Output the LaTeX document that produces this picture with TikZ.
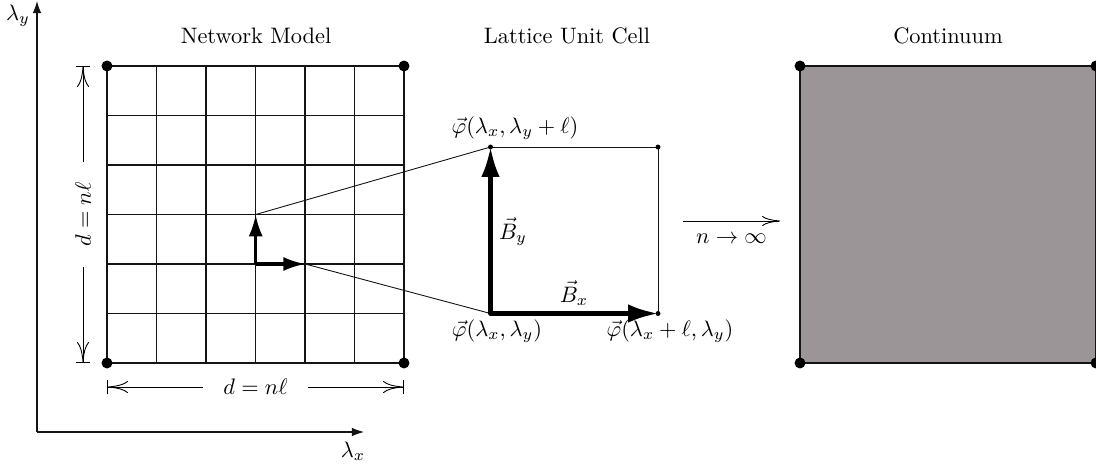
\documentclass[tikz,border=0pt]{standalone}
\usepackage{amsmath}
\usepackage{amssymb}
\usepackage{xcolor}
\usepackage{tikz}
\usetikzlibrary{arrows.meta,positioning,calc}
\definecolor{ctfill}{RGB}{155,149,152}
\definecolor{lnedge}{RGB}{20,20,20}
\tikzset{
  gridln/.style={draw=lnedge, line width=0.55pt},
  thin/.style={draw=lnedge, line width=0.4pt},
  axis/.style={-{Latex[length=5.4pt,width=3.8pt]}, draw=lnedge, line width=0.45pt},
  basis/.style={-{Latex[length=9.8pt,width=6.3pt]}, line width=1.35pt},
  bigbasis/.style={-{Latex[length=13.4pt,width=8.3pt]}, line width=1.8pt},
  dimln/.style={{Bar[width=6.3pt]To[length=9pt,width=5.4pt]}-{To[length=9pt,width=5.4pt]Bar[width=6.3pt]}, line width=0.4pt},
  dimlbl/.style={fill=white, inner xsep=9pt, inner ysep=2pt},
  lim/.style={-{To[length=8pt,width=4.5pt]}, line width=0.4pt},
  every picture/.append style={line join=round}
}

\begin{document}
\begin{tikzpicture}[x=0.447pt,y=-0.447pt]
  \useasboundingbox (0,0) rectangle (1096,465);
  % axes
  \coordinate (ax0) at (37,432);
  \coordinate (axY) at (37,1);
  \coordinate (axX) at (364,432);
  \draw[axis] (ax0) -- (axY);
  \draw[axis] (ax0) -- (axX);
  \node (lamy) at (18,16) {$\lambda_y$};
  \node (lamx) at (353,451) {$\lambda_x$};

  % titles
  \node (tnet) at (256,36) {Network Model};
  \node (tcell) at (567,36) {Lattice Unit Cell};
  \node (tcont) at (948,36) {Continuum};

  % network model
  \coordinate (gSW) at (107,363);
  \coordinate (gNW) at (107,66);
  \coordinate (gNE) at (404,66);
  \coordinate (gSE) at (404,363);
  \foreach \i in {0,...,6} {
    \draw[gridln] (107+\i*49.5,66) -- (107+\i*49.5,363);
    \draw[gridln] (107,66+\i*49.5) -- (404,66+\i*49.5);
  }
  \foreach \c in {gSW,gNW,gNE,gSE}
    \fill (\c) circle (2.45pt);
  \coordinate (bo) at (255.7,264);
  \coordinate (bu) at (255.7,214.5);
  \coordinate (br) at (305.2,264);
  \draw[basis] (bo) -- (bu);
  \draw[basis] (bo) -- (br);

  % dimensions
  \coordinate (dvt) at (83,66);
  \coordinate (dvb) at (83,363);
  \coordinate (dhl) at (107,387);
  \coordinate (dhr) at (404,387);
  \draw[dimln] (dvb) -- (dvt) node[midway, dimlbl, rotate=90] (dvl) {$d=n\ell$};
  \draw[dimln] (dhl) -- (dhr) node[midway, dimlbl] (dhlb) {$d=n\ell$};

  % unit cell
  \coordinate (uSW) at (490.5,313.5);
  \coordinate (uNW) at (490.5,147);
  \coordinate (uNE) at (658,147);
  \coordinate (uSE) at (658,313.5);
  \draw[thin] (bu) -- (uNW);
  \draw[thin] (br) -- (uSW);
  \draw[thin] (uNW) -- (uNE) -- (uSE);
  \draw[bigbasis] (uSW) -- (uNW);
  \draw[bigbasis] (uSW) -- (uSE);
  \foreach \c in {uSW,uNW,uNE,uSE}
    \fill (\c) circle (1.1pt);
  \node (phinw) at (515,128) {$\vec{\varphi}(\lambda_x,\lambda_y+\ell)$};
  \node (phisw) at (497,331) {$\vec{\varphi}(\lambda_x,\lambda_y)$};
  \node (phise) at (670,331) {$\vec{\varphi}(\lambda_x+\ell,\lambda_y)$};
  \node (by) at (513,232) {$\vec{B}_y$};
  \node (bx) at (574,293) {$\vec{B}_x$};

  % limit
  \coordinate (la) at (683,221);
  \coordinate (lb) at (780,221);
  \draw[lim] (la) -- (lb) node[midway, below=2pt] (ninf) {$n\to\infty$};

  % continuum
  \coordinate (cSW) at (800,363);
  \coordinate (cNW) at (800,66);
  \coordinate (cNE) at (1096,66);
  \coordinate (cSE) at (1096,363);
  \draw[gridln, fill=ctfill] (cSW) rectangle (cNE);
  \foreach \c in {cSW,cNW,cNE,cSE}
    \fill (\c) circle (2.45pt);
\end{tikzpicture}
\end{document}
